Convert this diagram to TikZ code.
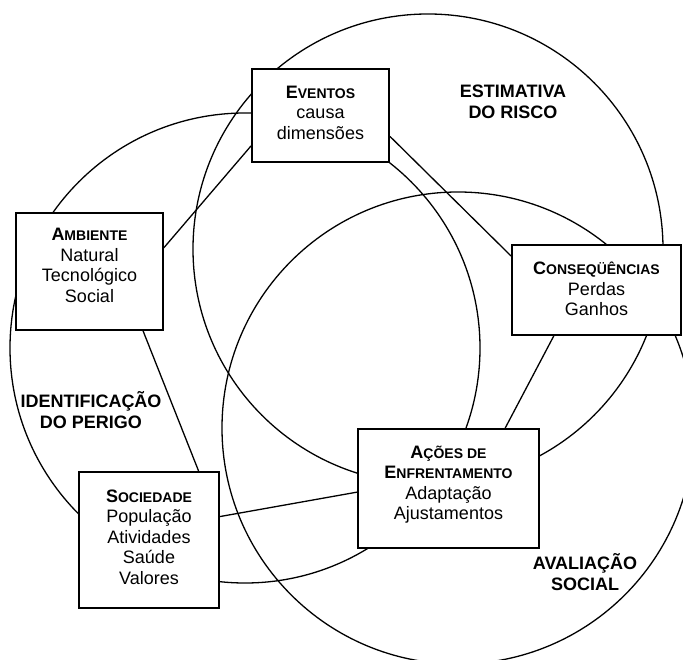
\documentclass[tikz,border=0pt]{standalone}
\usepackage{fontspec}
\setmainfont{Liberation Sans}
\usetikzlibrary{calc}
\newcommand{\BL}[1]{{\fontsize{18}{20.5}\selectfont #1}}
\newcommand{\sct}[1]{{\bfseries\fontsize{14}{20.5}\selectfont #1}}
\begin{document}
\begin{tikzpicture}[x=1pt,y=-1pt,
 ring/.style={line width=1.3pt},
 link/.style={line width=1.3pt},
 box/.style={draw, line width=1.8pt, fill=white, rectangle, inner sep=0pt},
 txt/.style={align=center, inner sep=0pt, font=\fontsize{18}{20.5}\selectfont},
 lbl/.style={align=center, inner sep=0pt, font=\bfseries\fontsize{18}{20.5}\selectfont}]
\useasboundingbox (0,0) rectangle (683,660);
\fill[white] (0,0) rectangle (683,660);
% circles
\draw[ring] (428,249) circle[radius=235pt];
\draw[ring] (245,348) circle[radius=235pt];
\draw[ring] (458,428) circle[radius=236pt];
% boxes
\node[box, minimum width=137pt, minimum height=93pt] (ev) at (320.5,115.5) {};
\node[txt] (evt) at ($(ev)+(0,-3)$) {\sct{\BL{E}VENTOS}\\causa\\dimensões};
\node[box, minimum width=147pt, minimum height=117pt] (amb) at (89.5,271.5) {};
\node[txt] (ambt) at ($(amb)+(0,-6)$) {\sct{\BL{A}MBIENTE}\\Natural\\Tecnológico\\Social};
\node[box, minimum width=169pt, minimum height=90pt] (cons) at (596.5,290) {};
\node[txt] (const) at ($(cons)+(0,-1)$) {\sct{\BL{C}ONSEQÜÊNCIAS}\\Perdas\\Ganhos};
\node[box, minimum width=181pt, minimum height=119pt] (acoes) at (448.5,488.5) {};
\node[txt] (acoest) at ($(acoes)+(0,-4)$) {\sct{\BL{A}ÇÕES DE}\\\sct{\BL{E}NFRENTAMENTO}\\Adaptação\\Ajustamentos};
\node[box, minimum width=140pt, minimum height=136pt] (soc) at (149,540) {};
\node[txt] (soct) at ($(soc)+(0,-3)$) {\sct{\BL{S}OCIEDADE}\\População\\Atividades\\Saúde\\Valores};
% labels
\node[lbl] (lest) at (513,102) {ESTIMATIVA\\DO RISCO};
\node[lbl] (lide) at (91,410) {IDENTIFICAÇÃO\\DO PERIGO};
\node[lbl] (lava) at (585,572) {AVALIAÇÃO\\SOCIAL};
% connectors
\draw[link] ($(amb.north east)!0.3!(amb.south east)$) -- ($(ev.north west)!0.82!(ev.south west)$);
\draw[link] ($(ev.north east)!0.72!(ev.south east)$) -- ($(cons.north west)!0.13!(cons.south west)$);
\draw[link] ($(cons.south west)!0.25!(cons.south east)$) -- ($(acoes.north west)!0.81!(acoes.north east)$);
\draw[link] ($(amb.south west)!0.86!(amb.south east)$) -- ($(soc.north west)!0.85!(soc.north east)$);
\draw[link] ($(soc.north east)!0.33!(soc.south east)$) -- ($(acoes.north west)!0.53!(acoes.south west)$);
\end{tikzpicture}
\end{document}
